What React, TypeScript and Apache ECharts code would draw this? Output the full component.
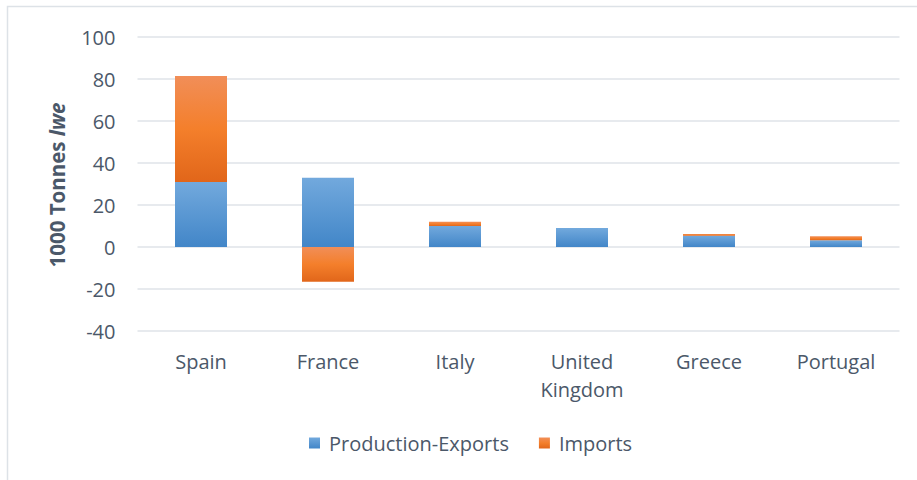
import React, { useEffect, useRef } from "react";
import * as echarts from "echarts";

const categories = ["Spain", "France", "Italy", "United\nKingdom", "Greece", "Portugal"];
const productionExports = [31, 33, 10, 9, 5.4, 3.2];
const imports = [50.4, -16.5, 2, 0, 0.8, 1.9];
const yTicks = { min: -40, max: 100, interval: 20 };

const textColor = "#4b5869";
const gridColor = "#dfe3e8";
const fontFamily = "'Open Sans', 'Noto Sans', sans-serif";

export default function App() {
  const ref = useRef<HTMLDivElement>(null);
  useEffect(() => {
    if (!ref.current) return;
    const chart = echarts.init(ref.current, null, { renderer: "svg" });
    const blue = new echarts.graphic.LinearGradient(0, 0, 0, 1, [
      { offset: 0, color: "#72a9dd" },
      { offset: 1, color: "#4286c8" },
    ]);
    const orange = new echarts.graphic.LinearGradient(0, 0, 0, 1, [
      { offset: 0, color: "#f18e58" },
      { offset: 0.5, color: "#f47f2b" },
      { offset: 1, color: "#e1661a" },
    ]);
    chart.setOption({
      animation: false,
      backgroundColor: "#ffffff",
      textStyle: { fontFamily },
      graphic: [
        {
          type: "rect",
          shape: { x: 7.5, y: 6.5, width: 1000, height: 1000 },
          style: { fill: "none", stroke: "#dde2e7", lineWidth: 1.5 },
          silent: true,
        },
        {
          type: "text",
          x: 57,
          y: 185,
          rotation: Math.PI / 2,
          style: {
            text: "{b|1000 Tonnes }{bi|lwe}",
            align: "center",
            verticalAlign: "middle",
            rich: {
              b: { fontWeight: "bold", fontSize: 20.5, fill: textColor, fontFamily },
              bi: { fontWeight: "bold", fontStyle: "italic", fontSize: 20.5, fill: textColor, fontFamily },
            },
          },
        },
      ],
      grid: { left: 137.5, right: 17.5, top: 37, bottom: 149, containLabel: false },
      legend: {
        left: 304,
        top: 428,
        itemWidth: 11,
        itemHeight: 11,
        itemGap: 30,
        icon: "rect",
        data: ["Production-Exports", "Imports"],
        textStyle: { color: textColor, fontSize: 20, fontFamily, padding: [0, 0, 0, 4] },
      },
      xAxis: {
        type: "category",
        data: categories,
        axisLine: { show: false, onZero: false },
        axisTick: { show: false },
        axisLabel: { color: textColor, fontSize: 20, lineHeight: 28, margin: 16, fontFamily },
      },
      yAxis: {
        type: "value",
        min: yTicks.min,
        max: yTicks.max,
        interval: yTicks.interval,
        axisLine: { show: false },
        axisTick: { show: false },
        axisLabel: { color: textColor, fontSize: 20, margin: 22, fontFamily },
        splitLine: { lineStyle: { color: gridColor, width: 1.5 } },
      },
      series: [
        {
          name: "Production-Exports",
          type: "bar",
          stack: "total",
          barWidth: 52,
          data: productionExports,
          itemStyle: { color: blue },
        },
        {
          name: "Imports",
          type: "bar",
          stack: "total",
          barWidth: 52,
          data: imports,
          itemStyle: { color: orange },
        },
      ],
    });
    return () => chart.dispose();
  }, []);
  return (
    <div
      ref={ref}
      style={{ position: "fixed", left: 0, top: 0, width: 917, height: 480 }}
    />
  );
}
